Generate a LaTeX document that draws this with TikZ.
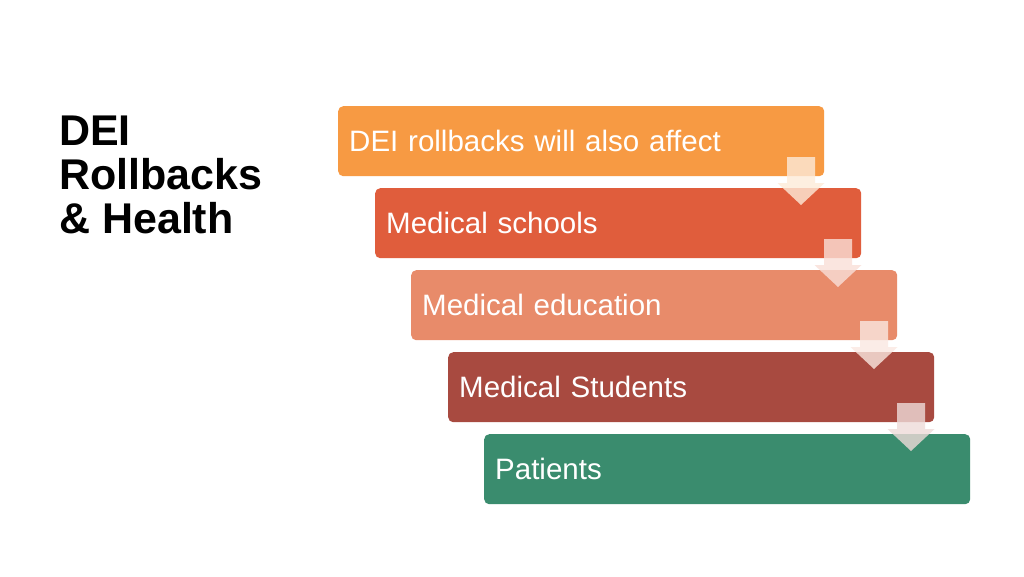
\documentclass[tikz,border=0pt]{standalone}
\usepackage{fontspec}
\setmainfont{Liberation Sans}
\begin{document}
\begin{tikzpicture}[x=1pt,y=-1pt,
  stepbox/.style={rounded corners=5pt,minimum width=486pt,minimum height=70pt,anchor=north west,
    text=white,font=\fontsize{29.5}{32}\selectfont,align=left,inner xsep=11pt,text width=464pt},
  downarrow/.style={fill opacity=0.8,draw=none}]
\useasboundingbox[fill=white] (0,0) rectangle (1024,576);
\node[anchor=north west,align=left,font=\fontsize{43}{44}\selectfont\bfseries,inner sep=0pt] (title) at (59,116) {DEI\\Rollbacks\\\& Health};
\definecolor{c1}{HTML}{F79A43}
\definecolor{c2}{HTML}{E05D3C}
\definecolor{c3}{HTML}{E88B6A}
\definecolor{c4}{HTML}{A84A40}
\definecolor{c5}{HTML}{3A8C6E}
\node[stepbox,fill=c1] (b1) at (338,106) {DEI rollbacks will also affect};
\node[stepbox,fill=c2] (b2) at (375,188) {Medical schools};
\node[stepbox,fill=c3] (b3) at (411,270) {Medical education};
\node[stepbox,fill=c4] (b4) at (448,352) {Medical Students};
\node[stepbox,fill=c5] (b5) at (484,434) {Patients};
\foreach \cx/\ty/\cc in {801/157/c1,838/239/c2,874/321/c3,911/403/c4}{
  \fill[downarrow,fill=\cc!20!white] (\cx-14,\ty) -- (\cx+14,\ty) -- (\cx+14,\ty+26) -- (\cx+23.5,\ty+26) -- (\cx,\ty+48) -- (\cx-23.5,\ty+26) -- (\cx-14,\ty+26) -- cycle;
}
\end{tikzpicture}
\end{document}
